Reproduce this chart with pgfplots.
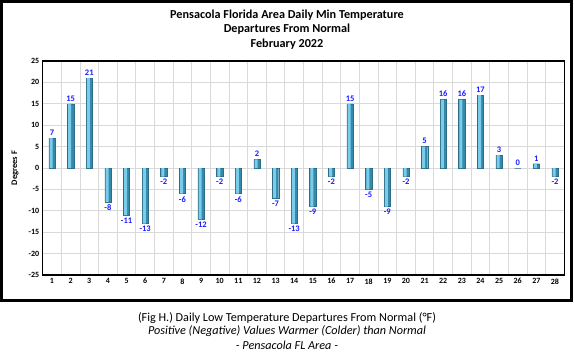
\documentclass[border=0pt]{standalone}
\usepackage{fontspec}
\setmainfont{Carlito}
\usepackage{pgfplots}
\pgfplotsset{compat=1.18}
\definecolor{barlight}{HTML}{7ACDEA}
\definecolor{bardark}{HTML}{3589AB}
\definecolor{baredge}{HTML}{2E6D85}
\definecolor{lblblue}{HTML}{1A1AFF}
\pgfplotstableread{
x y
1 7
2 15
3 21
4 -8
5 -11
6 -13
7 -2
8 -6
9 -12
10 -2
11 -6
12 2
13 -7
14 -13
15 -9
16 -2
17 15
18 -5
19 -9
20 -2
21 5
22 16
23 16
24 17
25 3
26 0
27 1
28 -2
}\datatable
\begin{document}
\begin{tikzpicture}[x=1pt,y=1pt]
\useasboundingbox (0,0) rectangle (574,362);
\draw[line width=2.5pt] (1.5,61.5) rectangle (571.5,360.5);
\node[font=\bfseries\fontsize{12.2}{14}\selectfont] at (287,347) {Pensacola Florida Area Daily Min Temperature};
\node[font=\bfseries\fontsize{12.2}{14}\selectfont] at (287,332.5) {Departures From Normal};
\node[font=\bfseries\fontsize{12.2}{14}\selectfont] at (287,318) {February 2022};
\node[font=\fontsize{12.2}{14}\selectfont] at (287,44) {(Fig H.) Daily Low Temperature Departures From Normal (°F)};
\node[font=\itshape\fontsize{12.2}{14}\selectfont] at (287,30.5) {Positive (Negative) Values Warmer (Colder) than Normal};
\node[font=\itshape\fontsize{12.2}{14}\selectfont] at (287,17) {- Pensacola FL Area -};
\begin{axis}[at={(42.7pt,87pt)}, anchor=south west, scale only axis,
  width=521.6pt, height=214pt,
  xmin=0.5, xmax=28.5, ymin=-25, ymax=25,
  ybar,
  xtick={1,...,28}, ytick={-25,-20,...,25},
  minor xtick={0.5,1.5,...,28.5},
  xminorgrids=true, ymajorgrids=true,
  grid style={draw=black!15, line width=0.9pt},
  minor grid style={draw=black!15, line width=0.9pt},
  major tick length=0pt, minor tick length=0pt,
  axis line style={line width=1.2pt},
  tick label style={font=\bfseries\fontsize{8}{9}\selectfont},
  /pgf/number format/assume math mode=true,
  ylabel={Degrees F},
  ylabel style={font=\bfseries\fontsize{8.5}{10}\selectfont, at={(axis description cs:-0.053,0.5)}, anchor=center},
]
\addplot[bar width=6.3pt, bar shift=0pt, draw=baredge, line width=0.4pt, fill=bardark,
  nodes near coords, nodes near coords align={vertical},
  every node near coord/.append style={font=\bfseries\fontsize{8.5}{10}\selectfont, text=lblblue, inner sep=2.5pt}]
  table[x=x, y=y] {\datatable};
\addplot[bar width=3pt, bar shift=-0.9pt, draw=none, fill=barlight]
  table[x=x, y=y] {\datatable};
\end{axis}
\end{tikzpicture}
\end{document}
